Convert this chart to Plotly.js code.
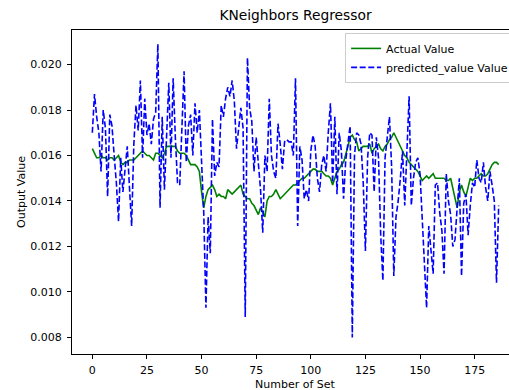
<!DOCTYPE html>
<html>
<head>
<meta charset="utf-8">
<script src="https://cdn.plot.ly/plotly-3.0.1.min.js"></script>
<style>
html,body{margin:0;padding:0;overflow:hidden;background:#fff;width:509px;height:390px;}
#chart{width:520px;height:390px;}
</style>
</head>
<body>
<div id="chart"></div>
<script>
const actualValue = [
0.0163,0.0161,0.0159,0.0159,0.0160,0.0159,0.0159,0.0158,0.0159,0.0159,
0.0158,0.0159,0.0160,0.0157,0.0156,0.0157,0.0157,0.0158,0.0158,0.0158,
0.0159,0.0160,0.0161,0.0162,0.0161,0.0160,0.0160,0.0159,0.0158,0.0161,
0.0161,0.0160,0.0159,0.0161,0.0164,0.0164,0.0164,0.0164,0.0164,0.0162,
0.0161,0.0161,0.0161,0.0160,0.0158,0.0156,0.0156,0.0156,0.0155,0.0153,
0.0144,0.0137,0.0142,0.0145,0.0146,0.0147,0.0145,0.0142,0.0143,0.0142,
0.0142,0.0141,0.0145,0.0144,0.0143,0.0144,0.0145,0.0146,0.0147,0.0143,
0.0142,0.0141,0.0141,0.0139,0.0138,0.0136,0.0134,0.0137,0.0135,0.0133,
0.0140,0.0142,0.0142,0.0143,0.0145,0.0143,0.0141,0.0142,0.0143,0.0144,
0.0145,0.0146,0.0147,0.0147,0.0148,0.0149,0.0150,0.0150,0.0151,0.0152,
0.0153,0.0154,0.0154,0.0153,0.0153,0.0153,0.0152,0.0151,0.0151,0.0150,
0.0147,0.0150,0.0153,0.0154,0.0156,0.0157,0.0160,0.0164,0.0168,0.0169,
0.0167,0.0166,0.0162,0.0163,0.0164,0.0164,0.0164,0.0165,0.0161,0.0163,
0.0164,0.0165,0.0163,0.0162,0.0164,0.0165,0.0167,0.0168,0.0170,0.0168,
0.0166,0.0164,0.0162,0.0160,0.0159,0.0157,0.0156,0.0155,0.0154,0.0153,
0.0151,0.0149,0.0150,0.0151,0.0150,0.0151,0.0152,0.0150,0.0150,0.0150,
0.0150,0.0150,0.0149,0.0149,0.0150,0.0146,0.0141,0.0137,0.0144,0.0147,
0.0144,0.0142,0.0146,0.0150,0.0149,0.0150,0.0150,0.0151,0.0152,0.0151,
0.0151,0.0152,0.0154,0.0156,0.0157,0.0157,0.0156
];
const predictedValue = [
0.0170,0.0187,0.0177,0.0170,0.0153,0.0180,0.0172,0.0142,0.0178,0.0173,
0.0160,0.0148,0.0131,0.0159,0.0144,0.0155,0.0164,0.0146,0.0129,0.0165,
0.0182,0.0171,0.0193,0.0159,0.0185,0.0169,0.0174,0.0165,0.0176,0.0179,
0.0209,0.0137,0.0177,0.0145,0.0170,0.0192,0.0159,0.0194,0.0168,0.0148,
0.0147,0.0170,0.0197,0.0157,0.0173,0.0178,0.0160,0.0183,0.0170,0.0180,
0.0160,0.0135,0.0093,0.0133,0.0117,0.0176,0.0151,0.0157,0.0155,0.0182,
0.0177,0.0185,0.0190,0.0186,0.0193,0.0184,0.0163,0.0172,0.0181,0.0172,
0.0089,0.0203,0.0181,0.0175,0.0153,0.0168,0.0156,0.0145,0.0126,0.0160,
0.0153,0.0185,0.0160,0.0153,0.0150,0.0174,0.0165,0.0154,0.0166,0.0167,
0.0166,0.0166,0.0160,0.0194,0.0129,0.0164,0.0158,0.0141,0.0145,0.0140,
0.0162,0.0169,0.0164,0.0150,0.0144,0.0156,0.0160,0.0153,0.0170,0.0183,
0.0148,0.0177,0.0143,0.0170,0.0162,0.0141,0.0158,0.0165,0.0173,0.0080,
0.0160,0.0170,0.0169,0.0165,0.0148,0.0118,0.0159,0.0170,0.0169,0.0144,
0.0168,0.0159,0.0125,0.0105,0.0159,0.0168,0.0177,0.0155,0.0107,0.0133,
0.0140,0.0150,0.0162,0.0138,0.0160,0.0186,0.0138,0.0150,0.0157,0.0159,
0.0152,0.0133,0.0112,0.0093,0.0129,0.0117,0.0108,0.0147,0.0148,0.0135,
0.0127,0.0108,0.0152,0.0140,0.0134,0.0120,0.0123,0.0137,0.0150,0.0107,
0.0139,0.0143,0.0125,0.0138,0.0148,0.0146,0.0158,0.0150,0.0148,0.0157,
0.0146,0.0140,0.0153,0.0147,0.0140,0.0104,0.0138
];
const setIndex = actualValue.map((_, i) => i);
const xTicks = [0, 25, 50, 75, 100, 125, 150, 175];
const yTicks = [0.008, 0.010, 0.012, 0.014, 0.016, 0.018, 0.020];

const font = {family: 'DejaVu Sans, sans-serif', size: 11, color: '#000'};

const traces = [
  {x: setIndex, y: actualValue, type: 'scatter', mode: 'lines', name: 'Actual Value',
   line: {color: '#008000', width: 1.6}},
  {x: setIndex, y: predictedValue, type: 'scatter', mode: 'lines', name: 'predicted_value Value',
   line: {color: '#0000ff', width: 1.6, dash: '6px,2.6px'}}
];

const axisBase = {
  showline: true, mirror: true, linecolor: '#000', linewidth: 1,
  ticks: 'outside', ticklen: 4, tickwidth: 1, tickcolor: '#000',
  showgrid: false, zeroline: false, tickfont: font, automargin: false
};

const layout = {
  width: 520, height: 390,
  margin: {l: 72, r: 1, t: 30, b: 36},
  paper_bgcolor: '#fff', plot_bgcolor: '#fff',
  font: font,
  title: {text: 'KNeighbors Regressor', font: {family: 'DejaVu Sans, sans-serif', size: 13.8, color: '#000'},
          x: 0.5, xref: 'paper', y: 0.96, yref: 'container', yanchor: 'middle'},
  xaxis: Object.assign({}, axisBase, {
    range: [-9.3, 195.3], tickvals: xTicks, ticktext: xTicks.map(String),
    ticklabelstandoff: 2
  }),
  yaxis: Object.assign({}, axisBase, {
    range: [0.00727, 0.02152], tickvals: yTicks, ticktext: yTicks.map(v => v.toFixed(3)),
    ticklabelstandoff: 3,
    title: {text: 'Output Value', font: font, standoff: 2}
  }),
  annotations: [
    {text: 'Number of Set', xref: 'paper', yref: 'paper', x: 0.5, y: -0.0725,
     xanchor: 'center', yanchor: 'top', showarrow: false, font: font, borderpad: 0}
  ],
  showlegend: true,
  legend: {x: 0.989, y: 0.991, xanchor: 'right', yanchor: 'top',
           bgcolor: 'rgba(255,255,255,0.8)', bordercolor: '#cccccc', borderwidth: 1,
           font: font, itemwidth: 30, tracegroupgap: 0}
};

Plotly.newPlot('chart', traces, layout, {displayModeBar: false, staticPlot: true});
</script>
</body>
</html>
